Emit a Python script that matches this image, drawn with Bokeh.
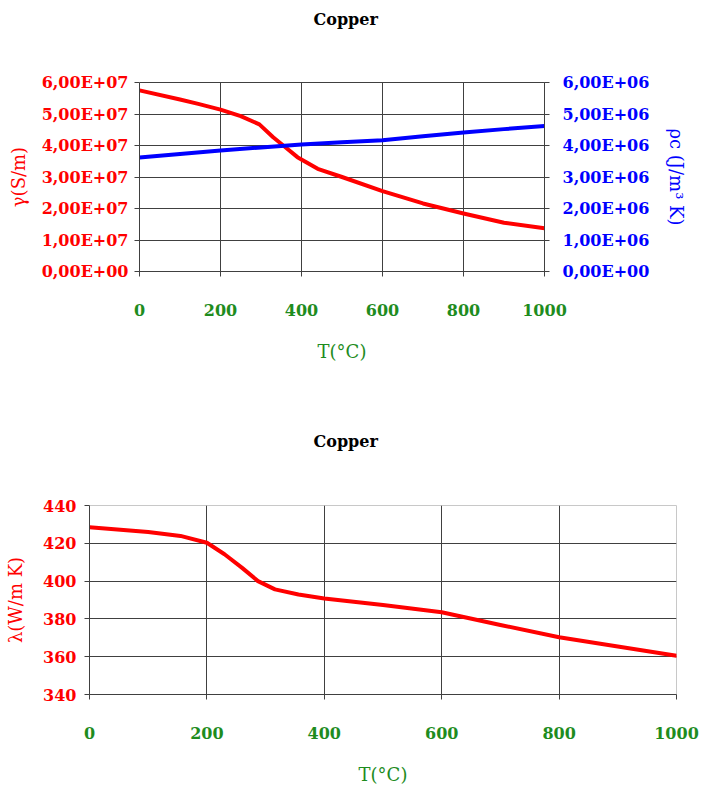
from bokeh.plotting import figure
from bokeh.models import Range1d, LinearAxis, FixedTicker
from bokeh.embed import file_html
from bokeh.resources import INLINE

# ---------------- data ----------------
title_text = "Copper"
x_label = "T(°C)"
x_ticks = [0, 200, 400, 600, 800, 1000]

# top chart: electrical conductivity and volumetric heat capacity
T_gamma = [0, 100, 145, 200, 250, 296, 330, 355, 390, 440, 500, 600, 700, 800, 900, 1000]
gamma = [5.75e7, 5.46e7, 5.32e7, 5.14e7, 4.93e7, 4.67e7, 4.26e7, 4.0e7, 3.63e7, 3.26e7, 3.0e7, 2.55e7, 2.16e7, 1.84e7, 1.55e7, 1.37e7]
T_rc = [0, 100, 200, 300, 400, 500, 600, 700, 800, 900, 1000]
rho_c = [3.62e6, 3.73e6, 3.84e6, 3.94e6, 4.03e6, 4.10e6, 4.17e6, 4.29e6, 4.41e6, 4.52e6, 4.62e6]
gamma_ticks = [0, 10000000, 20000000, 30000000, 40000000, 50000000, 60000000]
gamma_tick_labels = ["0,00E+00", "1,00E+07", "2,00E+07", "3,00E+07", "4,00E+07", "5,00E+07", "6,00E+07"]
rc_ticks = [0, 1000000, 2000000, 3000000, 4000000, 5000000, 6000000]
rc_tick_labels = ["0,00E+00", "1,00E+06", "2,00E+06", "3,00E+06", "4,00E+06", "5,00E+06", "6,00E+06"]
gamma_label = "γ(S/m)"
rc_label = "ρc (J/m³ K)"

# bottom chart: thermal conductivity
T_lam = [0, 100, 155, 200, 230, 260, 287, 316, 356, 400, 500, 600, 700, 800, 900, 1000]
lam = [428.5, 426, 423.9, 420.3, 414.2, 407, 400, 395.6, 392.9, 390.8, 387.3, 383.5, 376.8, 370.3, 365.4, 360.5]
lam_ticks = [340, 360, 380, 400, 420, 440]
lam_label = "λ(W/m K)"

# ---------------- style ----------------
RED = "#ff0000"
BLUE = "#0000ff"
GREEN = "#1e8c1e"
GRID = "#404040"
FONT = "DejaVu Serif"
TICK_SIZE = "16px"
LABEL_SIZE = "18px"


def style_axis(ax, color, ticks, labels=None, label_standoff=6, axis_label_standoff=12):
    ax.ticker = FixedTicker(ticks=ticks)
    if labels is not None:
        ax.major_label_overrides = dict(zip(ticks, labels))
    ax.major_label_text_color = color
    ax.major_label_text_font = FONT
    ax.major_label_text_font_style = "bold"
    ax.major_label_text_font_size = TICK_SIZE
    ax.axis_label_text_color = color
    ax.axis_label_text_font = FONT
    ax.axis_label_text_font_style = "normal"
    ax.axis_label_text_font_size = LABEL_SIZE
    ax.axis_line_color = GRID
    ax.major_tick_line_color = GRID
    ax.major_tick_in = 0
    ax.major_tick_out = 5
    ax.minor_tick_line_color = None
    ax.major_label_standoff = label_standoff
    ax.axis_label_standoff = axis_label_standoff


def add_title(p, offset, gap):
    # a blank axis above the frame (one white tick at the frame corner, no labels, no line)
    # acts as a spacer so that the title sits higher above the frame
    spacer = LinearAxis(ticker=FixedTicker(ticks=[0]), axis_line_color=None,
                        major_tick_out=gap, major_tick_in=0, major_tick_line_color="white",
                        major_label_standoff=0, major_label_text_font_size="0px",
                        major_label_text_color=None,
                        minor_tick_out=0, minor_tick_in=0, minor_tick_line_color=None)
    p.add_layout(spacer, "above")
    p.title.text = title_text
    p.title.align = "left"
    p.title.offset = offset
    p.title.vertical_align = "bottom"
    p.title.standoff = 10
    p.title.text_font = FONT
    p.title.text_font_style = "bold"
    p.title.text_font_size = "16px"
    p.title.text_color = "#000000"


# ---------------- top chart ----------------
p1 = figure(width=701, height=400, output_backend="svg", toolbar_location=None,
            x_range=Range1d(0, 1000), y_range=Range1d(0, 6e7),
            min_border_left=139, min_border_right=157, min_border_top=82, min_border_bottom=129)
p1.extra_y_ranges = {"rc": Range1d(0, 6e6)}
p1.outline_line_color = GRID
p1.background_fill_color = "white"
p1.border_fill_color = "white"

bx1 = p1.below[0]
ly1 = p1.left[0]
style_axis(bx1, GREEN, x_ticks, label_standoff=27, axis_label_standoff=22)
bx1.axis_label = x_label
style_axis(ly1, RED, gamma_ticks, gamma_tick_labels, label_standoff=6, axis_label_standoff=10)
ly1.axis_label = gamma_label

rax = LinearAxis(y_range_name="rc")
style_axis(rax, BLUE, rc_ticks, rc_tick_labels, label_standoff=13, axis_label_standoff=14)
rax.axis_label = rc_label
p1.add_layout(rax, "right")

p1.xgrid.ticker = FixedTicker(ticks=x_ticks)
p1.ygrid.ticker = FixedTicker(ticks=gamma_ticks)
p1.xgrid.grid_line_color = GRID
p1.ygrid.grid_line_color = GRID

p1.line(T_gamma, gamma, line_color=RED, line_width=4, line_join="round", line_cap="round")
p1.line(T_rc, rho_c, line_color=BLUE, line_width=4, line_join="round", line_cap="round", y_range_name="rc")
add_title(p1, 174, 49)

# ---------------- bottom chart ----------------
p2 = figure(width=701, height=392, output_backend="svg", toolbar_location=None,
            x_range=Range1d(0, 1000), y_range=Range1d(340, 440),
            min_border_left=89, min_border_right=25, min_border_top=105, min_border_bottom=98)
p2.outline_line_color = "#c8c8c8"
p2.background_fill_color = "white"
p2.border_fill_color = "white"

bx2 = p2.below[0]
ly2 = p2.left[0]
style_axis(bx2, GREEN, x_ticks, label_standoff=27, axis_label_standoff=22)
bx2.axis_label = x_label
style_axis(ly2, RED, lam_ticks, label_standoff=8, axis_label_standoff=14)
ly2.axis_label = lam_label

p2.xgrid.ticker = FixedTicker(ticks=x_ticks[1:-1])
p2.ygrid.ticker = FixedTicker(ticks=lam_ticks[1:-1])
p2.xgrid.grid_line_color = GRID
p2.ygrid.grid_line_color = GRID

p2.line(T_lam, lam, line_color=RED, line_width=4, line_join="round", line_cap="round")
add_title(p2, 224, 50)

open("out.html", "w").write(file_html([p1, p2], INLINE))
